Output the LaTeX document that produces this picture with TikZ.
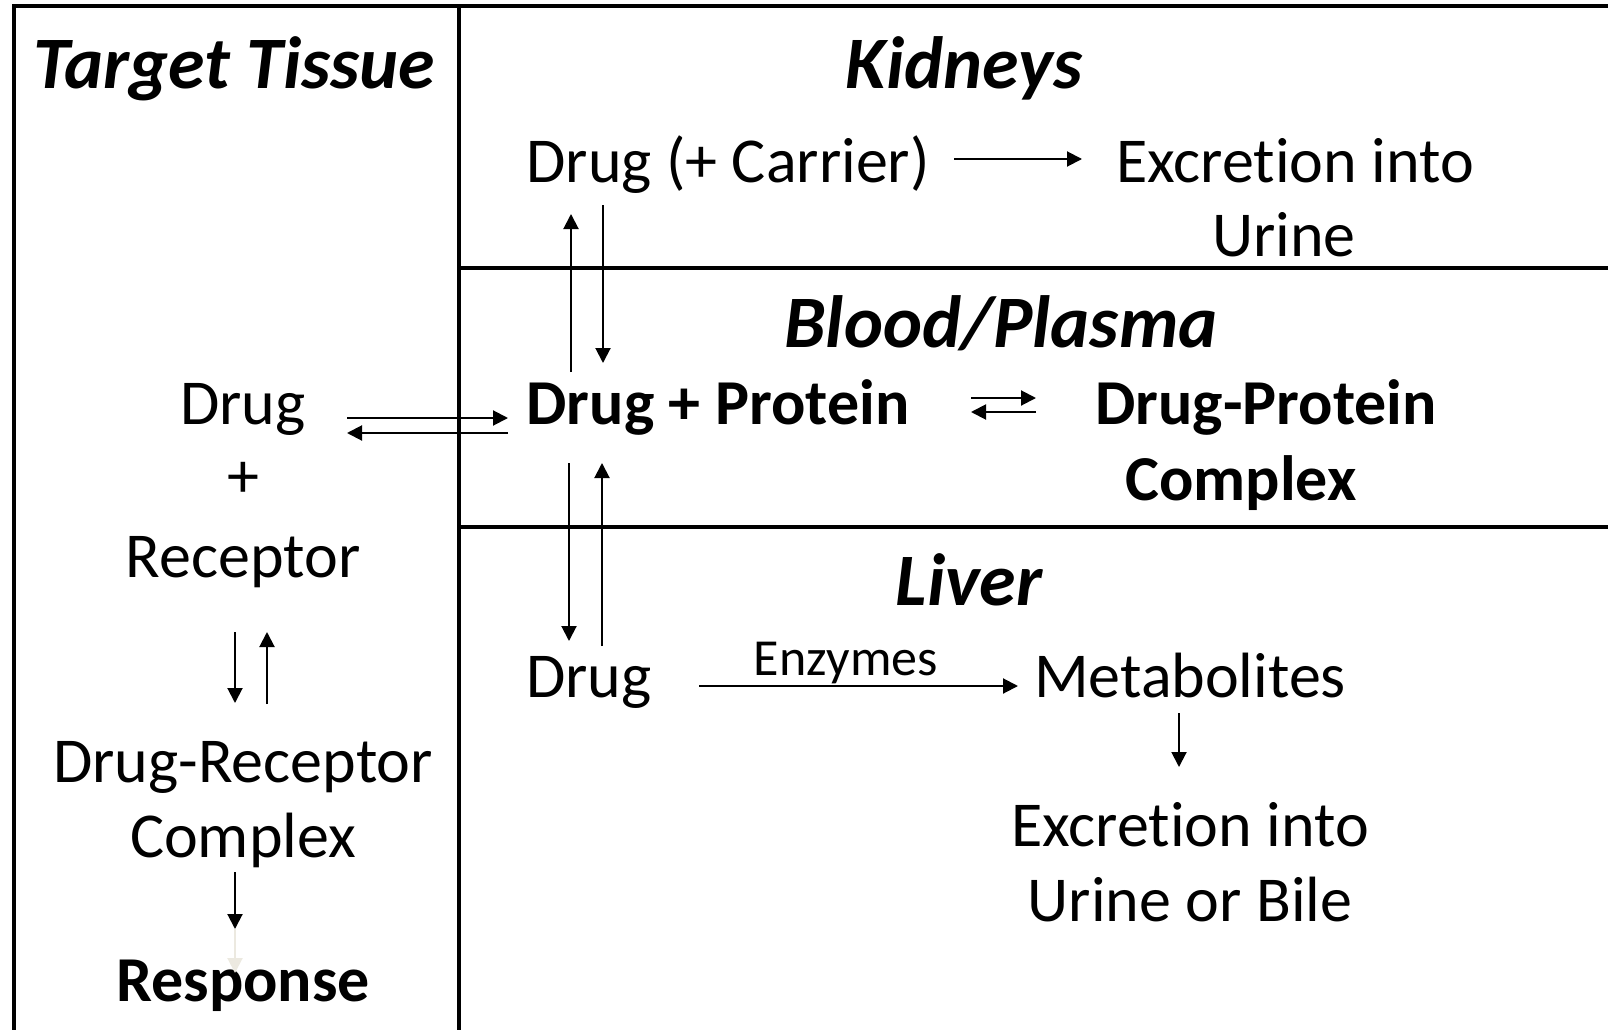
\documentclass[tikz,border=0pt]{standalone}
\usepackage{fontspec}
\setmainfont[Ligatures={NoCommon}]{Carlito}
\usetikzlibrary{arrows.meta}
\definecolor{faint}{RGB}{236,233,224}
\begin{document}
\begin{tikzpicture}[x=1pt,y=-1pt,
  txt/.style={inner sep=0pt, anchor=base, font=\fontsize{64}{75}\selectfont},
  btxt/.style={txt, font=\fontsize{64}{75}\selectfont\bfseries},
  hdr/.style={txt, font=\fontsize{74}{86}\selectfont\bfseries\itshape},
  stxt/.style={txt, font=\fontsize{52}{60}\selectfont},
  frame/.style={line width=4.5pt, line cap=rect},
  arr/.style={line width=2pt, -{Triangle[length=15pt,width=15pt]}},
  farr/.style={arr, draw=faint, fill=faint}
]
\useasboundingbox (0,0) rectangle (1608,1030);
\fill[white] (0,0) rectangle (1608,1030);
% frame
\draw[frame] (14,1032) -- (14,6) -- (1610,6);
\draw[frame] (459,6) -- (459,1032);
\draw[frame] (459,268) -- (1610,268);
\draw[frame] (459,527) -- (1610,527);
% headers
\node[hdr] (tt) at (234,89) {Target Tissue};
\node[hdr] (kid) at (964,89) {Kidneys};
\node[hdr] (bp) at (1001,347) {Blood/Plasma};
\node[hdr] (liv) at (969,605) {Liver};
% kidneys
\node[txt] (kdrug) at (728,182) {Drug (+ Carrier)};
\node[txt] (kexc1) at (1295,182) {Excretion into};
\node[txt] (kexc2) at (1284,256) {Urine};
% blood
\node[btxt] (dp) at (718,424) {Drug + Protein};
\node[btxt] (dpc1) at (1266,424) {Drug-Protein};
\node[btxt] (dpc2) at (1241,500) {Complex};
% target tissue
\node[txt] (td) at (243,424) {Drug};
\node[txt] (tplus) at (243,497) {+};
\node[txt] (trec) at (243,577) {Receptor};
\node[txt] (drc1) at (243,782) {Drug-Receptor};
\node[txt] (drc2) at (243,857) {Complex};
\node[btxt] (resp) at (243,1001) {Response};
% liver
\node[txt] (ldrug) at (589,697) {Drug};
\node[stxt] (enz) at (846,675) {Enzymes};
\node[txt] (met) at (1190,697) {Metabolites};
\node[txt] (lex1) at (1190,846) {Excretion into};
\node[txt] (lex2) at (1190,921) {Urine or Bile};
% arrow end points
\coordinate (kA) at (954,159);  \coordinate (kB) at (1082,159);
\coordinate (kuA) at (571,372); \coordinate (kuB) at (571,214);
\coordinate (kdA) at (603,205); \coordinate (kdB) at (603,363);
\coordinate (tA) at (347,418);  \coordinate (tB) at (508,418);
\coordinate (tC) at (508,433);  \coordinate (tD) at (347,433);
\coordinate (eA) at (971,398);  \coordinate (eB) at (1036,398);
\coordinate (eC) at (1036,412); \coordinate (eD) at (971,412);
\coordinate (ldA) at (569,463); \coordinate (ldB) at (569,641);
\coordinate (luA) at (602,646); \coordinate (luB) at (602,463);
\coordinate (zA) at (699,686);  \coordinate (zB) at (1018,686);
\coordinate (mA) at (1179,713); \coordinate (mB) at (1179,767);
\coordinate (rdA) at (235,632); \coordinate (rdB) at (235,703);
\coordinate (ruA) at (267,704); \coordinate (ruB) at (267,632);
\coordinate (cA) at (235,872);  \coordinate (cB) at (235,929);
\coordinate (cC) at (235,973);
% arrows
\draw[arr] (kA) -- (kB);
\draw[arr] (kuA) -- (kuB);
\draw[arr] (kdA) -- (kdB);
\draw[arr] (tA) -- (tB);
\draw[arr] (tC) -- (tD);
\draw[arr] (eA) -- (eB);
\draw[arr] (eC) -- (eD);
\draw[arr] (ldA) -- (ldB);
\draw[arr] (luA) -- (luB);
\draw[arr] (zA) -- (zB);
\draw[arr] (mA) -- (mB);
\draw[arr] (rdA) -- (rdB);
\draw[arr] (ruA) -- (ruB);
\draw[farr] (cB) -- (cC);
\draw[arr] (cA) -- (cB);
\end{tikzpicture}
\end{document}
